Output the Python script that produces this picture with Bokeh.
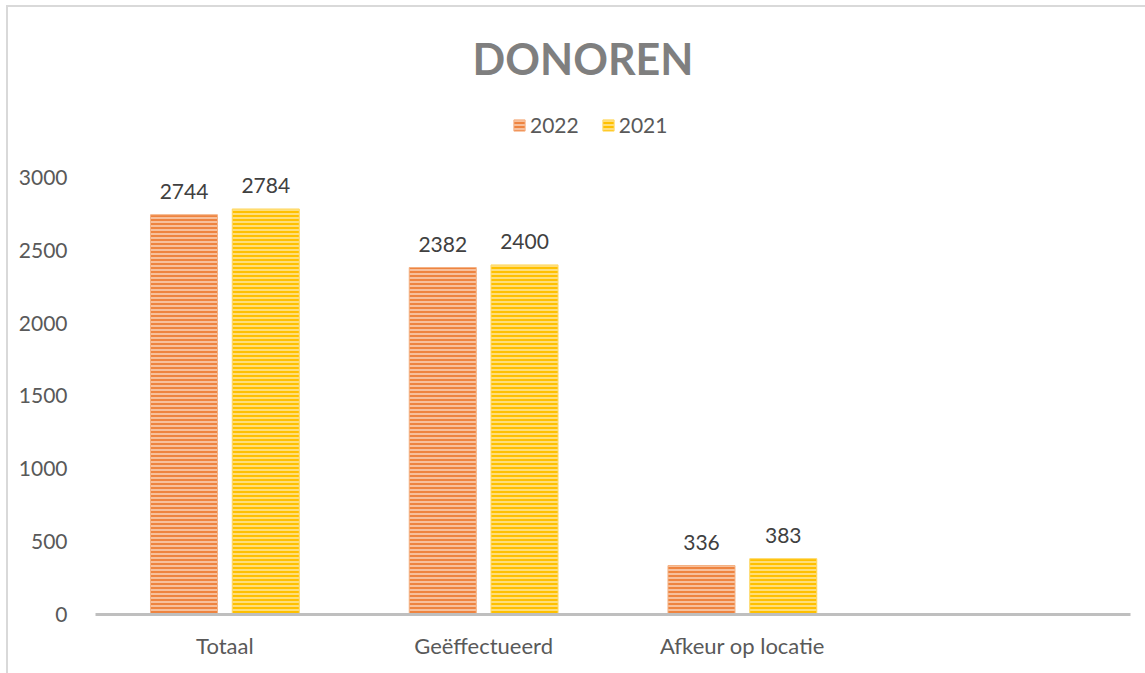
from bokeh.plotting import figure
from bokeh.models import (ColumnDataSource, Range1d, FixedTicker, Legend, LegendItem,
                          Label, LabelSet)
from bokeh.core.properties import value
from bokeh.transform import dodge
from bokeh.embed import file_html
from bokeh.resources import INLINE

categories = ["Totaal", "Geëffectueerd", "Afkeur op locatie"]
values_2022 = [2744, 2382, 336]
values_2021 = [2784, 2400, 383]
y_ticks = [0, 500, 1000, 1500, 2000, 2500, 3000]
title_text = "DONOREN"

FONT = "Lato"
n_slots = len(categories) + 1  # extra empty slot on the right

src = ColumnDataSource(dict(
    x=[i + 0.5 for i in range(len(categories))],
    cat=categories,
    v22=values_2022,
    v21=values_2021,
    l22=[str(v) for v in values_2022],
    l21=[str(v) for v in values_2021],
))

p = figure(width=1137, height=666, output_backend="svg", toolbar_location=None,
           x_range=Range1d(0, n_slots), y_range=Range1d(0, 4167),
           min_border_left=87, min_border_right=15, min_border_top=0,
           min_border_bottom=59, background_fill_color="white",
           border_fill_color="white", outline_line_color=None,
           styles={"outline": "2px solid #D9D9D9", "margin-left": "8px",
                   "margin-top": "7px"})
p.grid.visible = False

bw = 0.259
off = 0.158
r22 = p.vbar(x=dodge("x", -off, range=p.x_range), top="v22", width=bw, source=src,
             fill_color="#EE8440", line_color="#F4B183", line_width=1,
             hatch_pattern="horizontal_line", hatch_color="#F9D0B4",
             hatch_weight=1.6, hatch_scale=4)
r21 = p.vbar(x=dodge("x", off, range=p.x_range), top="v21", width=bw, source=src,
             fill_color="#FFC000", line_color="#FFD966", line_width=1,
             hatch_pattern="horizontal_line", hatch_color="#FFE699",
             hatch_weight=1.6, hatch_scale=4)

for col, lab, o in (("v22", "l22", -off), ("v21", "l21", off)):
    ls = LabelSet(x=dodge("x", o, range=p.x_range),
                  y=col, text=lab, source=src, text_align="center",
                  text_baseline="alphabetic", y_offset=16,
                  text_font=value(FONT), text_font_size=value("21px"),
                  text_color=value("#404040"))
    p.add_layout(ls)

# axes
p.yaxis.ticker = FixedTicker(ticks=y_ticks)
p.yaxis.axis_line_color = None
p.yaxis.major_tick_line_color = None
p.yaxis.minor_tick_line_color = None
p.yaxis.major_label_standoff = 22
p.yaxis.major_label_text_font = FONT
p.yaxis.major_label_text_font_size = "21px"
p.yaxis.major_label_text_color = "#595959"

p.xaxis.ticker = FixedTicker(ticks=[i + 0.5 for i in range(len(categories))])
p.xaxis.major_label_overrides = {i + 0.5: c for i, c in enumerate(categories)}
p.xaxis.axis_line_color = "#BFBFBF"
p.xaxis.axis_line_width = 3
p.xaxis.major_tick_line_color = None
p.xaxis.minor_tick_line_color = None
p.xaxis.major_label_standoff = 11
p.xaxis.major_label_text_font = FONT
p.xaxis.major_label_text_font_size = "22px"
p.xaxis.major_label_text_color = "#595959"

# title
p.add_layout(Label(x=1.884, y=3815, text=title_text, text_align="center",
                   text_baseline="alphabetic", text_font=FONT,
                   text_font_size="43px", text_font_style="bold",
                   text_color="#7F7F7F"))

legend = Legend(items=[LegendItem(label="2022", renderers=[r22]),
                       LegendItem(label="2021", renderers=[r21])],
                orientation="horizontal", location=(417, 477),
                glyph_width=14, glyph_height=14, label_standoff=4, spacing=22,
                padding=0, margin=0, border_line_color=None,
                background_fill_alpha=0, label_text_font=FONT,
                label_text_font_size="21px", label_text_color="#595959")
p.add_layout(legend)

open("out.html", "w").write(file_html(p, INLINE))
